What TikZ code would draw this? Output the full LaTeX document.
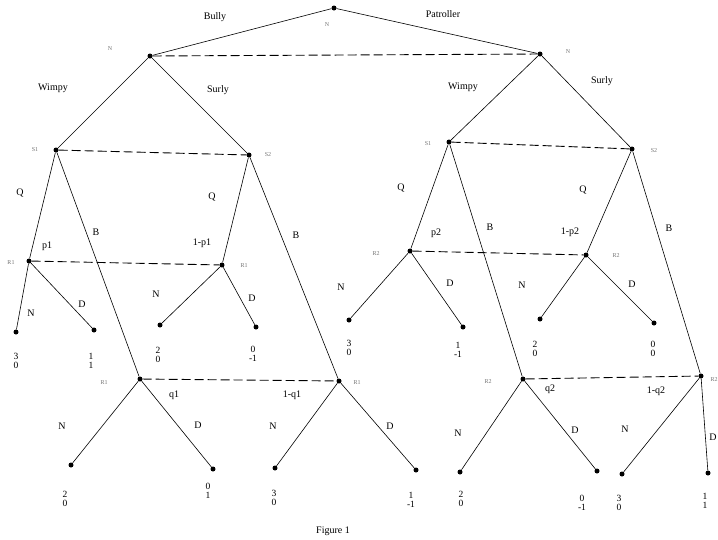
\documentclass[tikz,border=0pt]{standalone}
\usepackage{fontspec}
\setmainfont{Liberation Serif}
\begin{document}
\begin{tikzpicture}[x=1pt,y=-1pt,
  dot/.style={circle,fill=black,inner sep=0pt,minimum size=5pt},
  edge/.style={line width=0.6pt},
  info/.style={dash pattern=on 9pt off 4pt,line width=0.9pt},
  lab/.style={font=\fontsize{10}{10}\selectfont,inner sep=0pt},
  tinylab/.style={font=\fontsize{6}{6}\selectfont,text=black!55,inner sep=0pt},
  pay/.style={font=\fontsize{9.5}{9.5}\selectfont,align=center,inner sep=0pt}]
\useasboundingbox (0,0) rectangle (718,539);
% decision nodes
\node[dot] (r) at (334,8) {};
\node[dot] (nl) at (150,56) {};
\node[dot] (nr) at (540,54) {};
\node[dot] (s1l) at (56,150) {};
\node[dot] (s2l) at (249,155) {};
\node[dot] (s1r) at (449,142) {};
\node[dot] (s2r) at (632,149) {};
\node[dot] (ra) at (29,261) {};
\node[dot] (rb) at (222,265) {};
\node[dot] (rc) at (140,379) {};
\node[dot] (rd) at (339,381) {};
\node[dot] (re) at (410,251) {};
\node[dot] (rf) at (586,255) {};
\node[dot] (rg) at (523,379) {};
\node[dot] (rh) at (701,376) {};
% leaves
\node[dot] (l1) at (16,332) {};
\node[dot] (l2) at (94,330) {};
\node[dot] (l3) at (160,325) {};
\node[dot] (l4) at (256,327) {};
\node[dot] (l5) at (349,320) {};
\node[dot] (l6) at (463,327) {};
\node[dot] (l7) at (540,319) {};
\node[dot] (l8) at (654,323) {};
\node[dot] (l9) at (71,465) {};
\node[dot] (l10) at (213,469) {};
\node[dot] (l11) at (275,468) {};
\node[dot] (l12) at (416,470) {};
\node[dot] (l13) at (460,472) {};
\node[dot] (l14) at (597,471) {};
\node[dot] (l15) at (622,474) {};
\node[dot] (l16) at (708,473) {};
% edges
\draw[edge] (r) -- (nl);
\draw[edge] (r) -- (nr);
\draw[edge] (nl) -- (s1l);
\draw[edge] (nl) -- (s2l);
\draw[edge] (nr) -- (s1r);
\draw[edge] (nr) -- (s2r);
\draw[edge] (s1l) -- (ra);
\draw[edge] (s1l) -- (rc);
\draw[edge] (s2l) -- (rb);
\draw[edge] (s2l) -- (rd);
\draw[edge] (s1r) -- (re);
\draw[edge] (s1r) -- (rg);
\draw[edge] (s2r) -- (rf);
\draw[edge] (s2r) -- (rh);
\draw[edge] (ra) -- (l1);
\draw[edge] (ra) -- (l2);
\draw[edge] (rb) -- (l3);
\draw[edge] (rb) -- (l4);
\draw[edge] (re) -- (l5);
\draw[edge] (re) -- (l6);
\draw[edge] (rf) -- (l7);
\draw[edge] (rf) -- (l8);
\draw[edge] (rc) -- (l9);
\draw[edge] (rc) -- (l10);
\draw[edge] (rd) -- (l11);
\draw[edge] (rd) -- (l12);
\draw[edge] (rg) -- (l13);
\draw[edge] (rg) -- (l14);
\draw[edge] (rh) -- (l15);
\draw[edge] (rh) -- (l16);
% information sets
\draw[info] (nl) -- (nr);
\draw[info] (s1l) -- (s2l);
\draw[info] (s1r) -- (s2r);
\draw[info] (ra) -- (rb);
\draw[info] (rc) -- (rd);
\draw[info] (re) -- (rf);
\draw[info] (rg) -- (rh);
% tiny node labels
\node[tinylab] (tn0) at (327,25) {N};
\node[tinylab] (tn1) at (110,49) {N};
\node[tinylab] (tn2) at (568,52) {N};
\node[tinylab] (ts1) at (35,150) {S1};
\node[tinylab] (ts2) at (268,155) {S2};
\node[tinylab] (ts3) at (428,144) {S1};
\node[tinylab] (ts4) at (654,151) {S2};
\node[tinylab] (tra) at (11,263) {R1};
\node[tinylab] (trb) at (244,266) {R1};
\node[tinylab] (trc) at (104,383) {R1};
\node[tinylab] (trd) at (357,383) {R1};
\node[tinylab] (tre) at (376,254) {R2};
\node[tinylab] (trf) at (616,256) {R2};
\node[tinylab] (trg) at (488,382) {R2};
\node[tinylab] (trh) at (714,380) {R2};
% move labels
\node[lab] (bully) at (215,17) {Bully};
\node[lab] (patr) at (443,14) {Patroller};
\node[lab] (w1) at (53,88) {Wimpy};
\node[lab] (su1) at (218,90) {Surly};
\node[lab] (w2) at (463,87) {Wimpy};
\node[lab] (su2) at (602,81) {Surly};
\node[lab] (qa) at (20,193) {Q};
\node[lab] (ba) at (96,232) {B};
\node[lab] (p1) at (47,246) {p1};
\node[lab] (na) at (31,313) {N};
\node[lab] (da) at (82,304) {D};
\node[lab] (qb) at (212,197) {Q};
\node[lab] (pp1) at (202,243) {1-p1};
\node[lab] (bb) at (296,235) {B};
\node[lab] (nb) at (156,294) {N};
\node[lab] (db) at (252,298) {D};
\node[lab] (qe) at (401,188) {Q};
\node[lab] (p2) at (436,233) {p2};
\node[lab] (be) at (490,227) {B};
\node[lab] (ne) at (341,287) {N};
\node[lab] (de) at (450,283) {D};
\node[lab] (qf) at (583,190) {Q};
\node[lab] (pp2) at (570,232) {1-p2};
\node[lab] (bf) at (669,228) {B};
\node[lab] (nf) at (522,285) {N};
\node[lab] (df) at (632,284) {D};
\node[lab] (q1) at (174,395) {q1};
\node[lab] (nc) at (62,426) {N};
\node[lab] (dc) at (198,425) {D};
\node[lab] (qq1) at (292,395) {1-q1};
\node[lab] (nd) at (273,426) {N};
\node[lab] (dd) at (390,426) {D};
\node[lab] (q2) at (550,389) {q2};
\node[lab] (ng) at (458,433) {N};
\node[lab] (dg) at (575,430) {D};
\node[lab] (qq2) at (656,391) {1-q2};
\node[lab] (nh) at (625,429) {N};
\node[lab] (dh) at (713,437) {D};
% payoffs
\node[pay] (y1) at (16,361) {3\\0};
\node[pay] (y2) at (91,361) {1\\1};
\node[pay] (y3) at (158,355) {2\\0};
\node[pay] (y4) at (253,354) {0\\-1};
\node[pay] (y5) at (349,348) {3\\0};
\node[pay] (y6) at (458,350) {1\\-1};
\node[pay] (y7) at (535,349) {2\\0};
\node[pay] (y8) at (653,349) {0\\0};
\node[pay] (y9) at (65,499) {2\\0};
\node[pay] (y10) at (208,491) {0\\1};
\node[pay] (y11) at (274,498) {3\\0};
\node[pay] (y12) at (411,500) {1\\-1};
\node[pay] (y13) at (461,499) {2\\0};
\node[pay] (y14) at (582,503) {0\\-1};
\node[pay] (y15) at (619,503) {3\\0};
\node[pay] (y16) at (705,501) {1\\1};
\node[lab] (fig) at (333,531) {Figure 1};
\end{tikzpicture}
\end{document}
